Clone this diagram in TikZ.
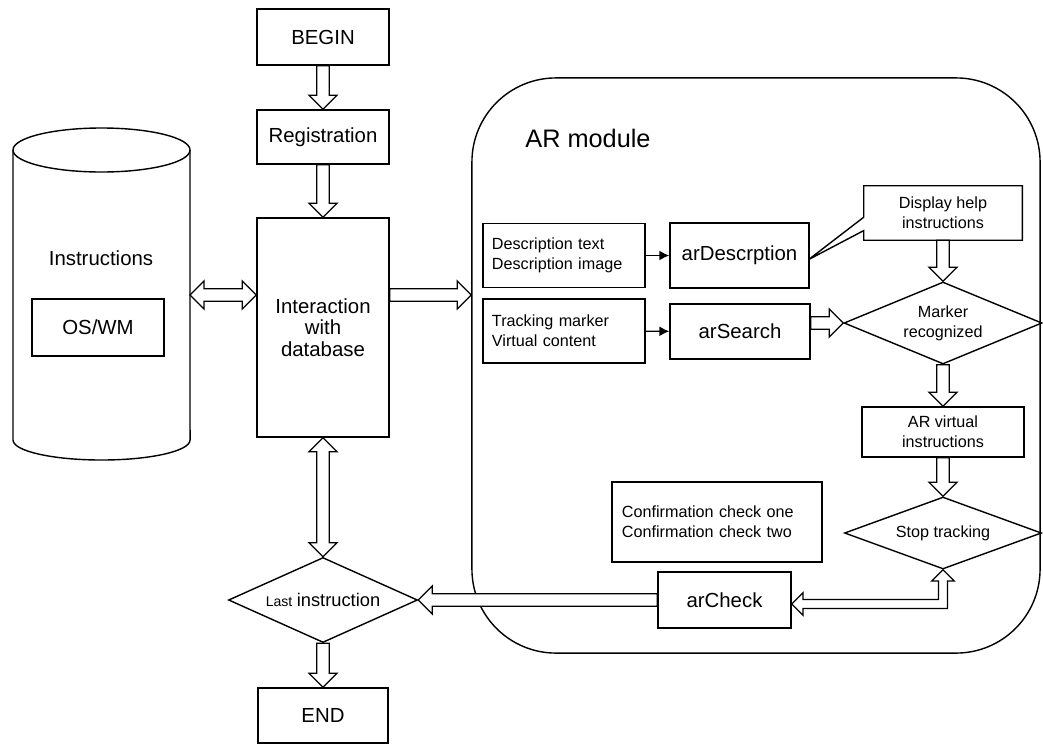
\documentclass[tikz,border=0pt]{standalone}
\usepackage{fontspec}
\setmainfont{Liberation Sans}
\usetikzlibrary{shapes.geometric,calc,arrows.meta}
\newcommand{\shaftw}{4.5pt}
\newcommand{\headw}{10pt}
\newcommand{\headl}{10pt}
% hollow block arrow, one head
\newcommand{\blockarrow}[2]{%
  \draw[blockline] let \p1=($(#2)-(#1)$), \n1={atan2(\y1,\x1)}, \n2={veclen(\x1,\y1)} in
    [shift={(#1)}, rotate=\n1] (0pt,-\shaftw) -- ({\n2-\headl},-\shaftw) -- ({\n2-\headl},-\headw)
    -- (\n2,0pt) -- ({\n2-\headl},\headw) -- ({\n2-\headl},\shaftw) -- (0pt,\shaftw) -- cycle;}
% hollow block arrow, two heads
\newcommand{\dblockarrow}[2]{%
  \draw[blockline] let \p1=($(#2)-(#1)$), \n1={atan2(\y1,\x1)}, \n2={veclen(\x1,\y1)} in
    [shift={(#1)}, rotate=\n1] (0pt,0pt) -- (\headl,\headw) -- (\headl,\shaftw) -- ({\n2-\headl},\shaftw)
    -- ({\n2-\headl},\headw) -- (\n2,0pt) -- ({\n2-\headl},-\headw) -- ({\n2-\headl},-\shaftw)
    -- (\headl,-\shaftw) -- (\headl,-\headw) -- cycle;}
\begin{document}
\begin{tikzpicture}[x=0.025cm,y=-0.025cm,
        base/.style={draw,line width=1pt,inner sep=2pt,font=\fontsize{14.5}{15.5}\selectfont},
        stepbox/.style={base,rectangle,align=center},
        small/.style={font=\fontsize{11.5}{14}\selectfont},
        listbox/.style={base,rectangle,small,align=left,inner xsep=0.225cm,text width=3.6cm,minimum height=1.6cm},
        decision/.style={base,diamond,inner sep=0pt,align=center,small},
        blockline/.style={draw,fill=white,line width=0.9pt,line join=miter},
        thin arrow/.style={line width=1pt,-{Latex[length=7pt,width=7pt]}}]
    \useasboundingbox (0,0) rectangle (1043,744);
    % Database
    \draw[line width=1pt] (13,150) -- (13,440) arc[start angle=180,end angle=360,x radius=2.2125cm,y radius=0.5cm] -- (190,150);
    \draw[line width=1pt] (101.5,150) ellipse [x radius=2.2125cm,y radius=0.55cm];
    \node[font=\fontsize{14.5}{15.5}\selectfont] (instr) at (101,258) {Instructions};
    \node[stepbox,minimum width=3.3cm,minimum height=1.425cm] (os) at (98,327.5) {OS/WM};
    \coordinate (dbr) at (190,295);
    % Main flow
    \node[stepbox,minimum width=3.3cm,minimum height=1.4cm] (begin) at (323,37) {BEGIN};
    \node[stepbox,minimum width=3.3cm,minimum height=1.35cm] (reg) at (323,137) {Registration};
    \node[stepbox,minimum width=3.3cm,minimum height=5.475cm] (inter) at (323,327.5) {Interaction\\with\\database};
    \node[decision,aspect=2.2,minimum width=4.725cm,minimum height=2.125cm] (last) at (323,600)
        {{\fontsize{10}{12}\selectfont Last} {\fontsize{13}{15}\selectfont instruction}};
    \node[stepbox,minimum width=3.25cm,minimum height=1.375cm] (end) at (323,715.5) {END};
    % AR module
    \node[draw,line width=1pt,rounded corners=2.1cm,minimum width=14.2cm,minimum height=14.375cm] (arm) at (756,365.5) {};
    \node[font=\fontsize{18}{20}\selectfont] (armlabel) at (588,138) {AR module};
    \node[listbox] (desc) at (564,255.5) {Description text\\Description image};
    \node[stepbox,minimum width=3.475cm,minimum height=1.625cm] (ardesc) at (739.5,255.5) {arDescrption};
    \node[listbox] (track) at (564,331) {Tracking marker\\Virtual content};
    \node[stepbox,minimum width=3.5cm,minimum height=1.375cm] (arsearch) at (740,331.5) {arSearch};
    \node[rectangle,small,align=center,minimum width=3.95cm,minimum height=1.35cm] (help) at (943,213) {Display help\\instructions};
    \coordinate (tipc) at ($(ardesc.east)+(-1,4)$);
    \draw[line width=1pt,line join=miter] (help.north west) -- (help.north east) -- (help.south east) -- (help.south west)
        -- ([yshift=-12.5pt]help.west) -- (tipc) -- ([yshift=-3pt]help.west) -- cycle;
    \node[decision,aspect=2.4,minimum width=4.95cm,minimum height=2.05cm] (mark) at (943,323) {Marker\\recognized};
    \node[stepbox,small,minimum width=4.05cm,minimum height=1.25cm] (virt) at (943,432) {AR virtual\\instructions};
    \node[decision,aspect=2.7,minimum width=4.925cm,minimum height=1.8cm] (stop) at (943,533) {Stop tracking};
    \node[base,rectangle,small,align=left,inner xsep=0.25cm,text width=4.75cm,minimum height=2cm] (conf) at (717,522)
        {Confirmation check one\\Confirmation check two};
    \node[stepbox,minimum width=3.325cm,minimum height=1.4cm] (chk) at (724.5,600) {arCheck};
    % Connectors
    \coordinate (intl) at (inter.west |- dbr);
    \coordinate (intr) at (inter.east |- dbr);
    \coordinate (arml) at (arm.west |- dbr);
    \coordinate (srch) at (arsearch.east |- mark.west);
    \coordinate (chkin) at ($(chk.east)+(0,4)$);
    \blockarrow{begin.south}{reg.north}
    \blockarrow{reg.south}{inter.north}
    \dblockarrow{dbr}{intl}
    \blockarrow{intr}{arml}
    \draw[thin arrow] (desc) -- (ardesc);
    \draw[thin arrow] (track) -- (arsearch);
    \blockarrow{help.south}{mark.north}
    \blockarrow{srch}{mark.west}
    \blockarrow{mark.south}{virt.north}
    \blockarrow{virt.south}{stop.north}
    \draw[blockline] let \p1=(stop.south), \p2=(chkin) in
        (\x1,\y1) -- ({\x1+8pt},{\y1-8pt}) -- ({\x1+3.2pt},{\y1-8pt}) -- ({\x1+3.2pt},{\y2-3.2pt})
        -- ({\x2+8pt},{\y2-3.2pt}) -- ({\x2+8pt},{\y2-8pt}) -- (\x2,\y2) -- ({\x2+8pt},{\y2+8pt})
        -- ({\x2+8pt},{\y2+3.2pt}) -- ({\x1-3.2pt},{\y2+3.2pt}) -- ({\x1-3.2pt},{\y1-8pt})
        -- ({\x1-8pt},{\y1-8pt}) -- cycle;
    \blockarrow{chk.west}{last.east}
    \dblockarrow{last.north}{inter.south}
    \blockarrow{last.south}{end.north}
\end{tikzpicture}
\end{document}
